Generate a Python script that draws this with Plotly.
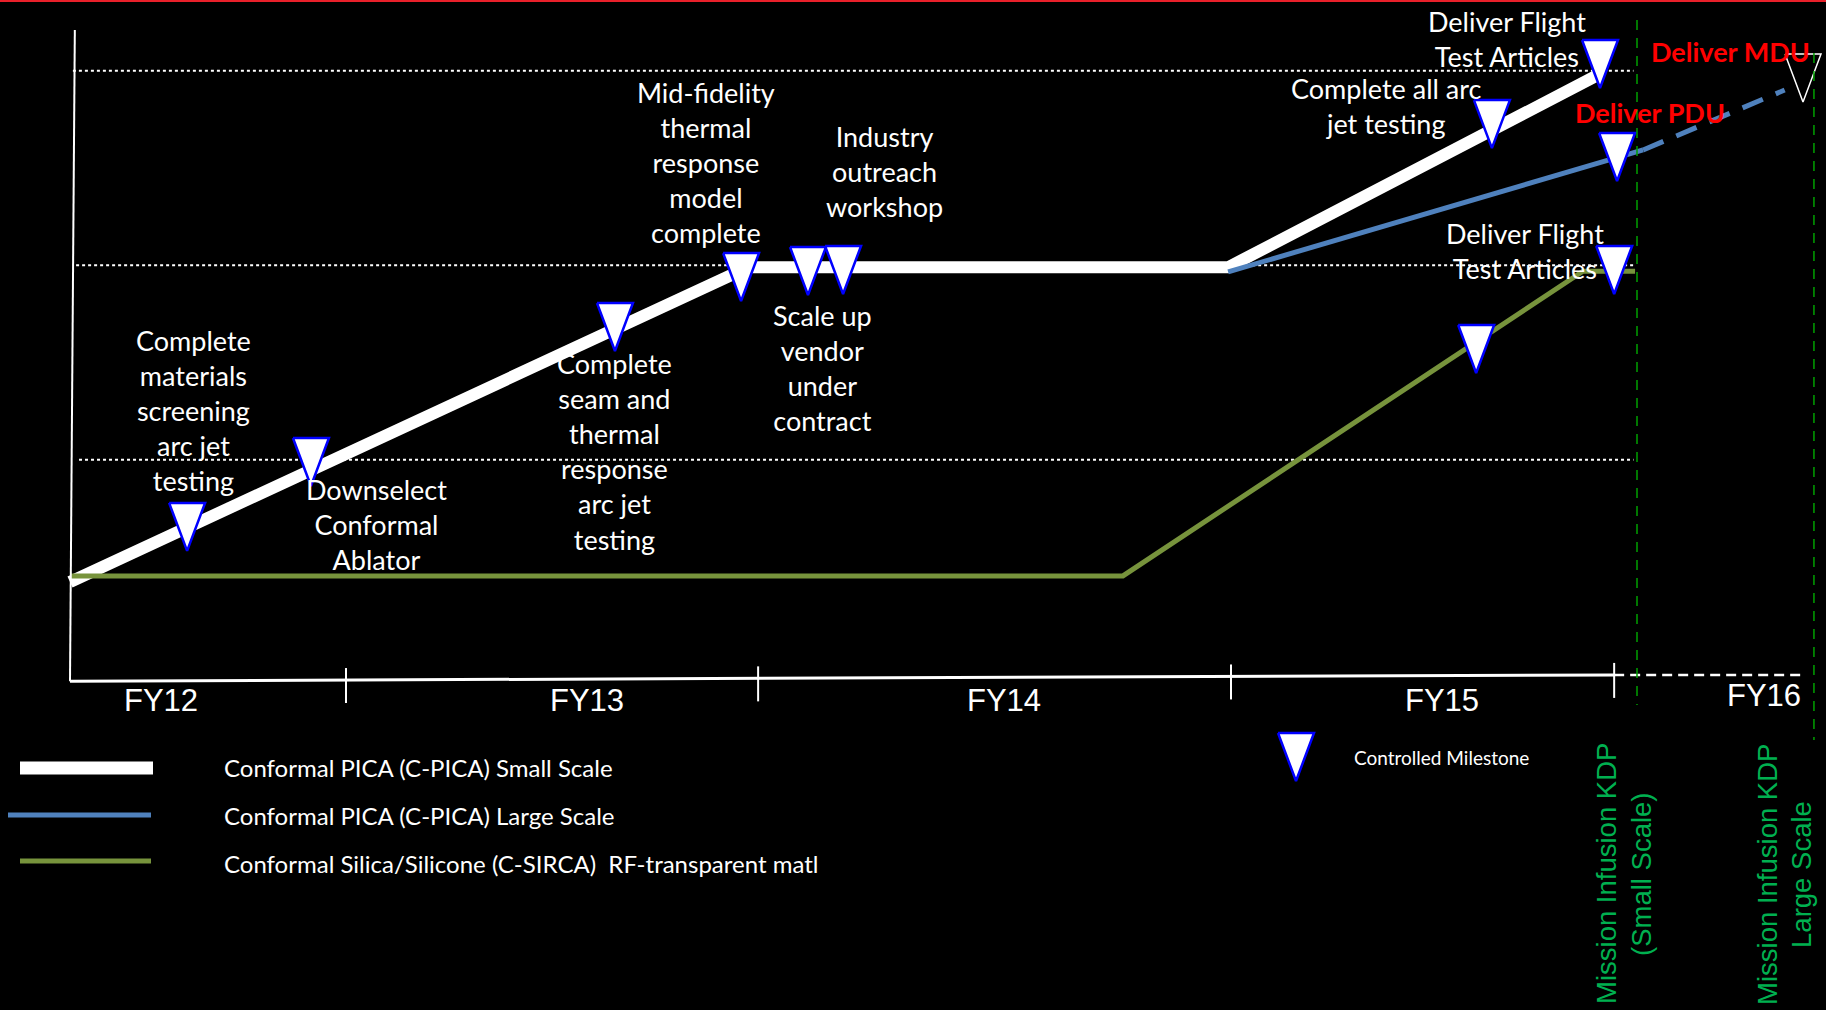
import plotly.graph_objects as go

W, H = 1826, 1010

# ---------------- data ----------------
# x: months since the start of FY12 (schedule position), y: maturity level
fy_labels = ["FY12", "FY13", "FY14", "FY15", "FY16"]
fy_boundaries = [0.0, 8.58, 21.39, 36.09, 48.0]
fy_label_pos = [2.83, 16.07, 29.03, 42.65, 52.66]
timeline_end = 53.93

ref_levels = [3, 4, 5]
axis_level_left, axis_level_right = 1.862, 1.894
vaxis_top = 5.21

small_x = [0.0, 21.08, 36.0, 47.56]
small_y = [2.372, 3.99, 3.99, 4.984]

large_x = [36.0, 48.9]
large_y = [3.966, 4.593]
large_plan_x = [48.9, 53.3]
large_plan_y = [4.593, 4.901]

sirca_x = [0.0, 32.73, 47.03, 48.65]
sirca_y = [2.403, 2.403, 3.97, 3.97]

ms_x = [3.64, 7.49, 16.94, 20.86, 22.94, 24.03, 44.20, 47.56, 48.09, 48.0, 43.71]
ms_y = [2.655, 2.989, 3.683, 3.94, 3.971, 3.976, 4.726, 5.035, 4.557, 3.976, 3.570]
ms_text = [
    "Complete<br>materials<br>screening<br>arc jet<br>testing",
    "Downselect<br>Conformal<br>Ablator",
    "Complete<br>seam and<br>thermal<br>response<br>arc jet<br>testing",
    "Mid-fidelity<br>thermal<br>response<br>model<br>complete",
    "Scale up<br>vendor<br>under<br>contract",
    "Industry<br>outreach<br>workshop",
    "Complete all arc<br>jet testing",
    "Deliver Flight<br>Test Articles",
    "<b>Deliver PDU</b>",
    "Deliver Flight<br>Test Articles",
    "",
]
mdu_x, mdu_y = [53.87], [4.963]
mdu_text = "<b>Deliver MDU</b>"

kdp_x = [48.71, 54.21]
kdp_lines = [["Mission Infusion KDP", "(Small Scale)"], ["Mission Infusion KDP", "Large Scale"]]

legend_names = [
    "Conformal PICA (C-PICA) Small Scale",
    "Conformal PICA (C-PICA) Large Scale",
    "Conformal Silica/Silicone (C-SIRCA)  RF-transparent matl",
]
milestone_legend = "Controlled Milestone"

# ---------------- layout / style ----------------
PX_PER_MONTH = 32.17
ORIGIN_X_PX = 70
PX_PER_LEVEL = 194.5
LEVEL4_PX = 265.3

x_range = [-ORIGIN_X_PX / PX_PER_MONTH, (W - ORIGIN_X_PX) / PX_PER_MONTH]
y_range = [4 - (H - LEVEL4_PX) / PX_PER_LEVEL, 4 + LEVEL4_PX / PX_PER_LEVEL]


def px2x(px):
    return (px - ORIGIN_X_PX) / PX_PER_MONTH


def px2y(py):
    return 4 + (LEVEL4_PX - py) / PX_PER_LEVEL


WHITE = "#ffffff"
BLUE = "#4f81bd"
GREEN = "#77933c"
KDP_GREEN = "#00a000"
KDP_TEXT = "#00b050"
RED = "#ff0000"
TXT_FONT = "Lato, Open Sans, sans-serif"
FY_FONT = "Liberation Sans, Arial, sans-serif"

TRI_HW = 18 / PX_PER_MONTH
TRI_HH = 24 / PX_PER_LEVEL

label_shift = [(6, 116), (66, -63), (0, -125), (-35, 114), (15, -97), (41, 98),
               (-106, 18), (-93, 25), (33, 44), (-89, 19), (0, 0)]
kdp_line_shift = [[-31, 4], [-47, -13]]


def tri_path(xs, ys):
    tx, ty = [], []
    for x, y in zip(xs, ys):
        tx += [x - TRI_HW, x + TRI_HW, x, x - TRI_HW, None]
        ty += [y + TRI_HH, y + TRI_HH, y - TRI_HH, y + TRI_HH, None]
    return tx, ty


fig = go.Figure()

fig.add_trace(go.Scatter(x=small_x, y=small_y, mode="lines",
                         line=dict(color=WHITE, width=12), hoverinfo="skip"))
fig.add_trace(go.Scatter(x=large_x, y=large_y, mode="lines",
                         line=dict(color=BLUE, width=5), hoverinfo="skip"))
fig.add_trace(go.Scatter(x=large_plan_x, y=large_plan_y, mode="lines",
                         line=dict(color=BLUE, width=5, dash="22px,14px"), hoverinfo="skip"))
fig.add_trace(go.Scatter(x=sirca_x, y=sirca_y, mode="lines",
                         line=dict(color=GREEN, width=5), hoverinfo="skip"))

tx, ty = tri_path(ms_x, ms_y)
fig.add_trace(go.Scatter(x=tx, y=ty, mode="lines", fill="toself", fillcolor=WHITE,
                         line=dict(color="#0000ff", width=2.5), hoverinfo="skip"))
tx, ty = tri_path(mdu_x, mdu_y)
fig.add_trace(go.Scatter(x=tx, y=ty, mode="lines", fill="toself", fillcolor="#000000",
                         line=dict(color=WHITE, width=1.5), hoverinfo="skip"))
# legend key triangle
tx, ty = tri_path([px2x(1296)], [px2y(757)])
fig.add_trace(go.Scatter(x=tx, y=ty, mode="lines", fill="toself", fillcolor=WHITE,
                         line=dict(color="#0000ff", width=2.5), hoverinfo="skip"))

shapes = []
# red top rule
shapes.append(dict(type="line", xref="paper", yref="paper", x0=0, x1=1, y0=1, y1=1,
                   line=dict(color="#e8202a", width=4)))
# dotted reference levels
for lv, x0 in zip(ref_levels, [0.28, 0.19, 0.09]):
    shapes.append(dict(type="line", x0=x0, x1=48.6, y0=lv, y1=lv,
                       line=dict(color=WHITE, width=2, dash="dot"), layer="below"))
# axes
shapes.append(dict(type="line", x0=0.15, x1=0.0, y0=vaxis_top, y1=axis_level_left,
                   line=dict(color=WHITE, width=2)))
shapes.append(dict(type="line", x0=fy_boundaries[0], x1=fy_boundaries[-1],
                   y0=axis_level_left, y1=axis_level_right, line=dict(color=WHITE, width=3)))
shapes.append(dict(type="line", x0=fy_boundaries[-1], x1=timeline_end,
                   y0=axis_level_right, y1=axis_level_right,
                   line=dict(color=WHITE, width=2.5, dash="10px,6px")))
for b in fy_boundaries[1:]:
    frac = (b - fy_boundaries[0]) / (fy_boundaries[-1] - fy_boundaries[0])
    yl = axis_level_left + frac * (axis_level_right - axis_level_left)
    shapes.append(dict(type="line", x0=b, x1=b, y0=yl + 12 / PX_PER_LEVEL, y1=yl - 23 / PX_PER_LEVEL,
                       line=dict(color=WHITE, width=2)))
# KDP lines
for kx, top_px, bot_px in zip(kdp_x, [20, 53], [705, 740]):
    shapes.append(dict(type="line", x0=kx, x1=kx, y0=px2y(top_px), y1=px2y(bot_px),
                       line=dict(color=KDP_GREEN, width=1.5, dash="10px,8px")))
# legend swatches
for (xa, xb, yy, wdt), col in zip([(20, 153, 768, 13), (8, 151, 815, 5), (20, 151, 861, 5)],
                                  [WHITE, BLUE, GREEN]):
    shapes.append(dict(type="line", x0=px2x(xa), x1=px2x(xb), y0=px2y(yy), y1=px2y(yy),
                       line=dict(color=col, width=wdt)))

ann = []
for x, y, t, (dx, dy) in zip(ms_x, ms_y, ms_text, label_shift):
    if not t:
        continue
    is_red = t.startswith("<b>")
    ann.append(dict(x=x, y=y, text=t, showarrow=False, xshift=dx, yshift=dy,
                    xanchor="center", yanchor="middle", align="center",
                    font=dict(family=TXT_FONT, size=27, color=RED if is_red else WHITE)))
ann.append(dict(x=mdu_x[0], y=mdu_y[0], text=mdu_text, showarrow=False, xshift=-73, yshift=27,
                font=dict(family=TXT_FONT, size=27, color=RED)))
for lbl, pos in zip(fy_labels, fy_label_pos):
    yoff = 19 if lbl != "FY16" else 14
    ann.append(dict(x=pos, y=axis_level_left, text=lbl, showarrow=False, yshift=-yoff,
                    font=dict(family=FY_FONT, size=31, color=WHITE)))
for kx, lines, shifts in zip(kdp_x, kdp_lines, kdp_line_shift):
    for t, sh in zip(lines, shifts):
        ann.append(dict(x=kx, y=px2y(874), text=t, showarrow=False, xshift=sh, textangle=-90,
                        font=dict(family=FY_FONT, size=27.5, color=KDP_TEXT)))
for name, yy in zip(legend_names, [767, 815, 863]):
    ann.append(dict(x=px2x(222), y=px2y(yy), text=name, showarrow=False, xanchor="left",
                    font=dict(family=TXT_FONT, size=24, color=WHITE)))
ann.append(dict(x=px2x(1441), y=px2y(757), text=milestone_legend, showarrow=False,
                font=dict(family=TXT_FONT, size=19, color=WHITE)))

fig.update_layout(
    width=W, height=H, margin=dict(l=0, r=0, t=0, b=0),
    paper_bgcolor="#000000", plot_bgcolor="#000000", showlegend=False,
    xaxis=dict(range=x_range, visible=False, fixedrange=True),
    yaxis=dict(range=y_range, visible=False, fixedrange=True),
    shapes=shapes, annotations=ann,
)

fig.write_html("out.html", config={"displayModeBar": False})
